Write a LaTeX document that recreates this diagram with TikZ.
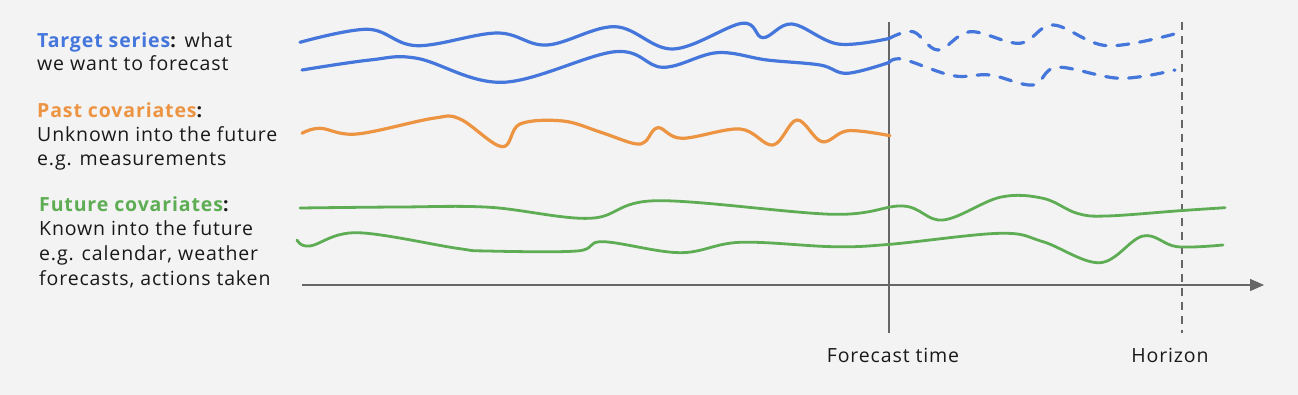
\documentclass[tikz,border=0pt]{standalone}
\usepackage{fontspec}
\setmainfont{Open Sans}[LetterSpace=4.5]
\usetikzlibrary{arrows.meta}
\definecolor{bgray}{HTML}{F3F3F3}
\definecolor{tblue}{HTML}{4476DB}
\definecolor{porange}{HTML}{EC9441}
\definecolor{fgreen}{HTML}{5EAD55}
\definecolor{axgray}{HTML}{666666}
\begin{document}
\begin{tikzpicture}[x=1pt, y=-1pt,
  series/.style={line width=3.2pt, line cap=round, line join=round},
  lbl/.style={anchor=base west, inner sep=0pt, font=\fontsize{19.5}{24}\selectfont, text=black!90}]
\fill[bgray] (0,0) rectangle (1298,395);
\useasboundingbox (0,0) rectangle (1298,395);
% Legend text
\node[lbl] (tgt1) at (37,48) {\textbf{\textcolor{tblue}{Target series}:} what};
\node[lbl] (tgt2) at (37,71) {we want to forecast};
\node[lbl] (past1) at (37,118) {\textbf{\textcolor{porange}{Past covariates}:}};
\node[lbl] (past2) at (37,142) {Unknown into the future};
\node[lbl] (past3) at (37,166) {e.g. measurements};
\node[lbl] (fut1) at (39,212) {\textbf{\textcolor{fgreen}{Future covariates}:}};
\node[lbl] (fut2) at (39,236) {Known into the future};
\node[lbl] (fut3) at (39,261) {e.g. calendar, weather};
\node[lbl] (fut4) at (39,286) {forecasts, actions taken};
% Time axis and markers
\draw[axgray, line width=1.4pt, -{Triangle[length=14pt, width=12pt]}] (302,285) -- (1264,285);
\draw[axgray, line width=1.3pt] (889,22) -- (889,333);
\draw[axgray, line width=1.3pt, dash pattern=on 8pt off 6pt] (1182,22) -- (1182,333);
\node[lbl, anchor=base] (fctime) at (893,362) {Forecast time};
\node[lbl, anchor=base] (horizon) at (1170,362) {Horizon};
% Target series: history solid, future dashed
\draw[series, tblue] plot[smooth, tension=0.6] coordinates {(300,42.3) (368,29.3) (417,45.7) (497,33) (547,45) (615,26.7) (673,49) (742,23.3) (763,37.7) (792,24) (838,44) (889,38.5)};
\draw[series, tblue, dash pattern=on 12pt off 11pt] plot[smooth, tension=0.6] coordinates {(889,38.5) (913,31.7) (938,50) (970,31.7) (1020,43.3) (1053,25) (1107,45.7) (1177,33.3)};
\draw[series, tblue] plot[smooth, tension=0.6] coordinates {(302,70) (370,60) (417,58.3) (503,82.3) (615,51.7) (663,67.3) (717,52.7) (767,60) (820,65) (847,73.3) (889,62.5)};
\draw[series, tblue, dash pattern=on 12pt off 11pt] plot[smooth, tension=0.6] coordinates {(889,62.5) (903,59.3) (953,75.7) (990,75) (1033,85) (1057,67.3) (1120,78.3) (1175,70)};
% Past covariates stop at forecast time
\draw[series, porange] plot[smooth, tension=0.6] coordinates {(302,133.3) (320,128.3) (357,134) (433,118.3) (460,119) (502,146.7) (520,124) (563,121) (600,132) (633,143.3) (645,141.7) (658,127.7) (682,138.3) (740,129) (773,145) (797,120) (822,141.7) (848,130.7) (890,135.7)};
% Future covariates run past the horizon
\draw[series, fgreen, line width=2.8pt] plot[smooth, tension=0.6] coordinates {(300,208) (400,207) (490,207.3) (590,218.3) (657,200.7) (833,214.3) (903,206) (943,220) (1000,197.3) (1043,198.3) (1077,213.3) (1107,216) (1180,210.7) (1225,207.7)};
\draw[series, fgreen, line width=2.8pt] plot[smooth, tension=0.6] coordinates {(297,240) (310,246) (357,232.7) (457,248.3) (487,251) (577,251) (603,241.7) (680,252.7) (740,242.3) (833,246.7) (890,244.3) (1000,233.3) (1043,241.7) (1100,262.7) (1143,236) (1177,246.7) (1223,245)};
\end{tikzpicture}
\end{document}
